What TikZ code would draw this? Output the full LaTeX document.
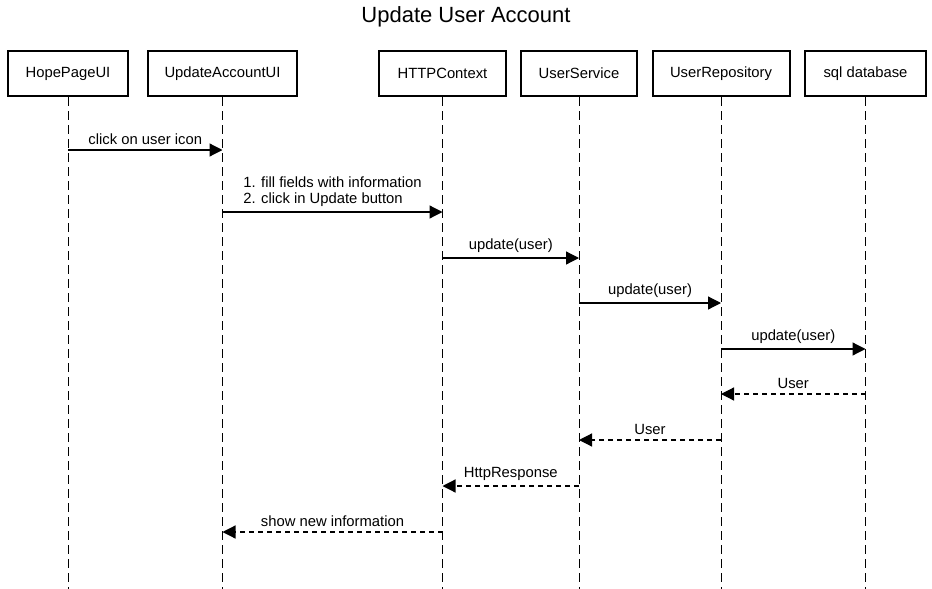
\documentclass[tikz,border=0pt]{standalone}
\usepackage{fontspec}
\setmainfont{Liberation Sans}
\usetikzlibrary{arrows.meta}
\begin{document}
\begin{tikzpicture}[x=1pt,y=-1pt,
  actor/.style={draw=black,line width=2pt,fill=white,minimum height=45pt,inner sep=0pt,font=\fontsize{14.8}{17}\selectfont},
  lifeline/.style={draw=black,line width=1pt,dash pattern=on 9pt off 5pt},
  msg/.style={draw=black,line width=1.2pt,-{Triangle[length=13pt,width=13pt]}},
  ret/.style={msg,dash pattern=on 5pt off 4pt},
  lbl/.style={font=\fontsize{14.8}{16}\selectfont,above=3.5pt,midway,inner sep=1pt}
]
\useasboundingbox (0,0) rectangle (932,589);
\node[font=\fontsize{22}{26}\selectfont] (title) at (466,17) {Update User Account};
\node[actor,minimum width=120pt] (hp) at (68,73.5) {HopePageUI};
\node[actor,minimum width=149pt] (ua) at (222.5,73.5) {UpdateAccountUI};
\node[actor,minimum width=127pt] (hc) at (442.5,73.5) {HTTPContext};
\node[actor,minimum width=116pt] (us) at (579,73.5) {UserService};
\node[actor,minimum width=137pt] (ur) at (721,73.5) {UserRepository};
\node[actor,minimum width=121pt] (db) at (865.5,73.5) {sql database};
\foreach \n in {hp,ua,hc,us,ur,db}{
  \coordinate (\n-end) at (\n.south |- 0,589);
  \draw[lifeline] (\n.south) -- (\n-end);
}
\draw[msg] (hp.south |- 0,150) -- (ua.south |- 0,150) node[lbl] {click on user icon};
\draw[msg] (ua.south |- 0,212) -- (hc.south |- 0,212) node[lbl,above=0pt,align=left] {1. fill fields with information\\2. click in Update button};
\draw[msg] (hc.south |- 0,258) -- (us.south |- 0,258) node[lbl] {update(user)};
\draw[msg] (us.south |- 0,303) -- (ur.south |- 0,303) node[lbl] {update(user)};
\draw[msg] (ur.south |- 0,349) -- (db.south |- 0,349) node[lbl] {update(user)};
\draw[ret] (db.south |- 0,394) -- (ur.south |- 0,394) node[lbl] {User};
\draw[ret] (ur.south |- 0,440) -- (us.south |- 0,440) node[lbl] {User};
\draw[ret] (us.south |- 0,486) -- (hc.south |- 0,486) node[lbl] {HttpResponse};
\draw[ret] (hc.south |- 0,532) -- (ua.south |- 0,532) node[lbl] {show new information};
\end{tikzpicture}
\end{document}
